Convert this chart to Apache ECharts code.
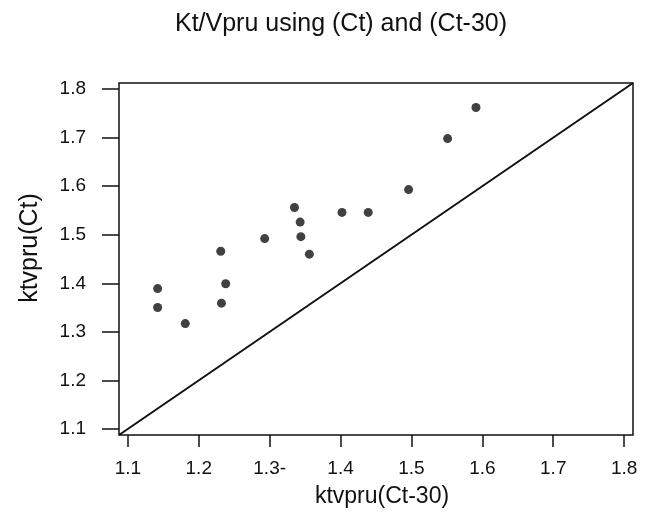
<!DOCTYPE html>
<html>
<head>
<meta charset="utf-8">
<script src="https://cdn.jsdelivr.net/npm/echarts@6/dist/echarts.min.js"></script>
<style>
html,body{margin:0;padding:0;background:#fff;}
#chart{width:650px;height:513px;}
</style>
</head>
<body>
<div id="chart"></div>
<script>
const titleText = 'Kt/Vpru using (Ct) and (Ct-30)';
const xName = 'ktvpru(Ct-30)';
const yName = 'ktvpru(Ct)';
const ktvCt30 = [1.142, 1.142, 1.181, 1.231, 1.232, 1.238, 1.293, 1.335, 1.343, 1.344, 1.356, 1.402, 1.439, 1.496, 1.551, 1.591];
const ktvCt   = [1.389, 1.350, 1.317, 1.466, 1.359, 1.399, 1.492, 1.556, 1.526, 1.496, 1.460, 1.546, 1.546, 1.593, 1.698, 1.762];
const tickValues = [1.1, 1.2, 1.3, 1.4, 1.5, 1.6, 1.7, 1.8];
const xTickLabels = ['1.1', '1.2', '1.3-', '1.4', '1.5', '1.6', '1.7', '1.8'];
const yTickLabels = ['1.1', '1.2', '1.3', '1.4', '1.5', '1.6', '1.7', '1.8'];
const axisMin = 1.0875;
const axisMax = 1.8125;
const identityLine = [[1.0875, 1.0875], [1.8125, 1.8125]];

const points = ktvCt30.map((x, i) => [x, ktvCt[i]]);
const xLabelMap = {};
tickValues.forEach((v, i) => { xLabelMap[v.toFixed(1)] = xTickLabels[i]; });

const FONT = 'Liberation Sans, Arial, sans-serif';
const INK = '#111111';

const chart = echarts.init(document.getElementById('chart'), null, {renderer: 'canvas'});
chart.setOption({
  backgroundColor: '#ffffff',
  animation: false,
  title: {
    text: titleText,
    left: 336, top: 7, textAlign: 'center',
    textStyle: {fontFamily: FONT, fontSize: 25, fontWeight: 'normal', color: INK}
  },
  grid: {
    left: 119, right: 17, top: 83, bottom: 75,
    show: true, borderColor: INK, borderWidth: 1.5, backgroundColor: 'transparent'
  },
  xAxis: {
    type: 'value', min: axisMin, max: axisMax,
    name: xName, nameLocation: 'middle', nameGap: 50,
    nameTextStyle: {fontFamily: FONT, fontSize: 23, color: INK, padding: [0, 0, 0, 12]},
    axisLine: {show: false},
    splitLine: {show: false},
    axisTick: {show: true, length: 12, inside: false, customValues: tickValues, lineStyle: {color: INK, width: 1.5}},
    axisLabel: {
      show: true, margin: 24, customValues: tickValues,
      fontFamily: FONT, fontSize: 19, color: INK,
      formatter: v => xLabelMap[Number(v).toFixed(1)] || ''
    }
  },
  yAxis: {
    type: 'value', min: axisMin, max: axisMax,
    name: yName, nameLocation: 'middle', nameGap: 76,
    nameTextStyle: {fontFamily: FONT, fontSize: 25, color: INK, padding: [0, 0, 0, 22]},
    axisLine: {show: false},
    splitLine: {show: false},
    axisTick: {show: true, length: 17, inside: false, customValues: tickValues, lineStyle: {color: INK, width: 1.5}},
    axisLabel: {
      show: true, margin: 33, customValues: tickValues, padding: [5, 0, 0, 0],
      fontFamily: FONT, fontSize: 19, color: INK,
      formatter: v => yTickLabels[tickValues.findIndex(t => Math.abs(t - v) < 1e-6)] || ''
    }
  },
  series: [
    {
      type: 'line', data: identityLine, symbol: 'none', silent: true,
      lineStyle: {color: INK, width: 2}, z: 2
    },
    {
      type: 'scatter', data: points, symbol: 'circle', symbolSize: 9,
      itemStyle: {color: INK}, z: 3
    }
  ]
});
</script>
</body>
</html>
